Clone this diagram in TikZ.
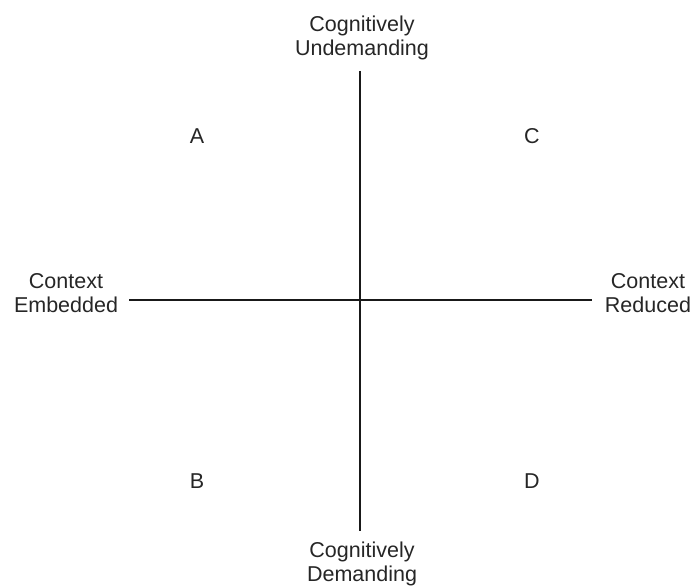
\documentclass[tikz,border=0pt]{standalone}
\usepackage{fontspec}
\setmainfont{Liberation Sans}
\begin{document}
\begin{tikzpicture}[x=1pt,y=-1pt,
  lab/.style={font=\fontsize{21.5}{24.5}\selectfont, align=center, anchor=base, inner sep=0pt, text=black!85},
  axisv/.style={line width=2.4pt, black!90},
  axish/.style={line width=1.2pt, black!90}]
\useasboundingbox (0,0) rectangle (694,588);
\coordinate (vt) at (360,71);
\coordinate (vb) at (360,531);
\coordinate (hl) at (129,300);
\coordinate (hr) at (592,300);
\draw[axisv] (vt) -- (vb);
\draw[axish] (hl) -- (hr);
\node[lab] (top) at (362,56) {Cognitively\\Undemanding};
\node[lab] (bot) at (362,581.5) {Cognitively\\Demanding};
\node[lab] (left) at (66,312.5) {Context\\Embedded};
\node[lab] (right) at (648,312.5) {Context\\Reduced};
\node[lab] (A) at (197,143.5) {A};
\node[lab] (C) at (532,143.5) {C};
\node[lab] (B) at (197,488.5) {B};
\node[lab] (D) at (532,488.5) {D};
\end{tikzpicture}
\end{document}
